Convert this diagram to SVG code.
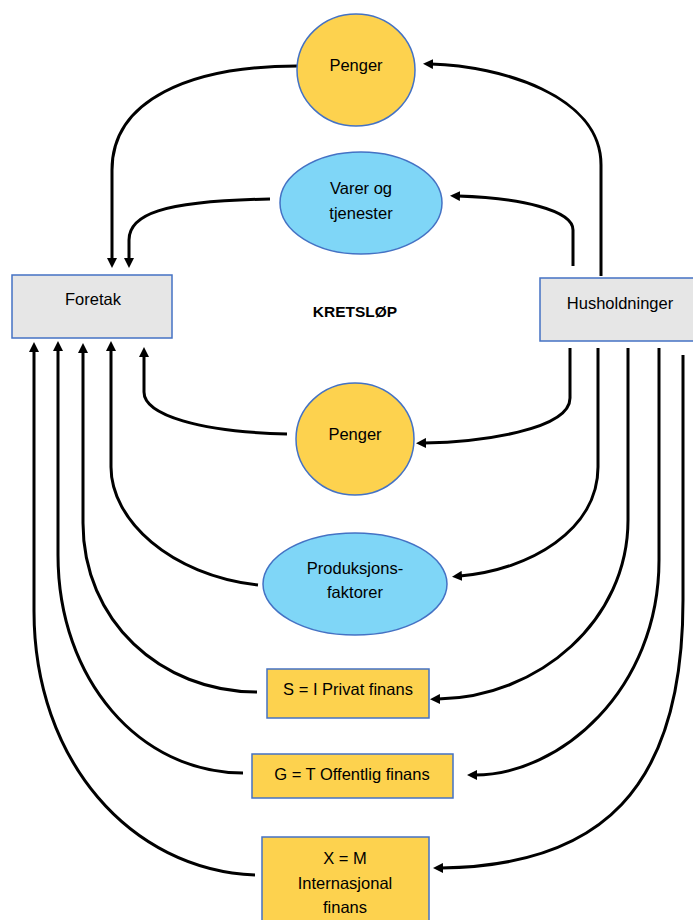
<svg xmlns="http://www.w3.org/2000/svg" width="693" height="920" viewBox="0 0 693 920">
<style>
.t{font-family:"Liberation Sans",Arial,sans-serif;font-size:16.5px;fill:#000;text-anchor:middle}
.b{font-weight:bold;font-size:15.5px}
.gold{fill:#FDD24E;stroke:#4472C4;stroke-width:1.5}
.sky{fill:#7FD6F7;stroke:#4472C4;stroke-width:1.5}
.grey{fill:#E6E6E6;stroke:#4472C4;stroke-width:1.5}
.c{fill:none;stroke:#000;stroke-width:3;marker-end:url(#ah)}
</style>
<defs>
<marker id="ah" viewBox="0 0 10 10" refX="2" refY="5" markerWidth="10" markerHeight="10" markerUnits="userSpaceOnUse" orient="auto">
<path d="M0,0 L10,5 L0,10 z" fill="#000"/>
</marker>
</defs>
<g id="connectors">
<path class="c" d="M297 66 C190 66 112 100 112 170 L112 260"/>
<path class="c" d="M601 276 L601 165 C601 95 500 66 431 64"/>
<path class="c" d="M270 199 C160 201 129 215 129 240 L129 260"/>
<path class="c" d="M573 266 L573 230 C573 210 520 198 458 196"/>
<path class="c" d="M287 434 C200 432 144 415 144 392 L144 355"/>
<path class="c" d="M570 348 L570 398 C570 430 480 442 424 443"/>
<path class="c" d="M258 585 C170 575 111 520 111 467 L111 349"/>
<path class="c" d="M598 348 L598 467 C598 530 530 570 460 576"/>
<path class="c" d="M257 692 C160 692 83 620 83 523 L83 351"/>
<path class="c" d="M628 348 L628 520 C628 620 540 697 438 699"/>
<path class="c" d="M243 773 C140 773 58 680 58 555 L58 349"/>
<path class="c" d="M659 348 L659 560 C659 690 560 775 475 775"/>
<path class="c" d="M255 875 C130 870 34 760 34 611 L34 350"/>
<path class="c" d="M683 355 L683 600 C683 790 600 866 441 868"/>
</g>
<g id="penger-top">
<ellipse class="gold" cx="356" cy="70" rx="59" ry="56"/>
<text class="t" x="356" y="71">Penger</text>
</g>
<g id="varer">
<ellipse class="sky" cx="361" cy="203" rx="81" ry="51"/>
<text class="t" x="361" y="194">Varer og</text>
<text class="t" x="361" y="219">tjenester</text>
</g>
<g id="foretak">
<rect class="grey" x="12" y="275" width="160" height="63"/>
<text class="t" x="93" y="305">Foretak</text>
</g>
<g id="husholdninger">
<rect class="grey" x="540" y="278" width="160" height="63"/>
<text class="t" x="620" y="309">Husholdninger</text>
</g>
<g id="kretslop">
<text class="t b" x="355" y="317">KRETSLØP</text>
</g>
<g id="penger-mid">
<ellipse class="gold" cx="355" cy="439" rx="59" ry="56"/>
<text class="t" x="355" y="440">Penger</text>
</g>
<g id="produksjon">
<ellipse class="sky" cx="355" cy="584" rx="92" ry="51"/>
<text class="t" x="355" y="574">Produksjons-</text>
<text class="t" x="355" y="598">faktorer</text>
</g>
<g id="privat">
<rect class="gold" x="267" y="669" width="162" height="49"/>
<text class="t" x="348" y="695">S = I Privat finans</text>
</g>
<g id="offentlig">
<rect class="gold" x="252" y="754" width="201" height="44"/>
<text class="t" x="352" y="780">G = T Offentlig finans</text>
</g>
<g id="internasjonal">
<rect class="gold" x="262" y="837" width="167" height="90"/>
<text class="t" x="345" y="864">X = M</text>
<text class="t" x="345" y="889">Internasjonal</text>
<text class="t" x="345" y="913">finans</text>
</g>
</svg>
